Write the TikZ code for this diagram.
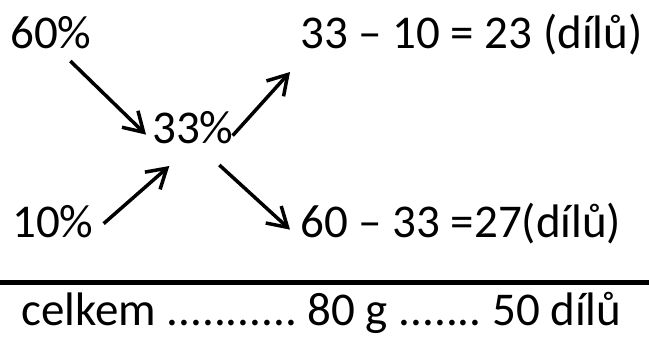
\documentclass[tikz,border=0pt]{standalone}
\usepackage{fontspec}
\setmainfont{Carlito}
\frenchspacing
\usetikzlibrary{arrows.meta,positioning,calc}
\tikzset{t/.style={inner sep=0pt,anchor=base west,font=\fontsize{47}{56}\selectfont},
 arr/.style={-{Straight Barb[length=19pt,width=23pt]},line width=3.5pt},
 rule/.style={line width=5pt}}
\begin{document}
\begin{tikzpicture}[x=1pt,y=-1pt]
\useasboundingbox (0,0) rectangle (649,338);
\node[t] (p60) at (10,48) {60\%};
\node[t] (p33) at (152,143) {33\%};
\node[t] (p10) at (12,237) {10\%};
\node[t] (d1) at (300,48) {33 – 10 = 23 (dílů)};
\node[t] (d2) at (300,237) {60 – 33 =27(dílů)};
\node[t] (sum) at (21,325) {celkem ........... 80 g ....... 50 dílů};
\draw[rule] (0,282) -- (649,282);
\draw[arr] ([xshift=19.5pt,yshift=-13pt]p60.base) -- ([xshift=-6pt,yshift=6pt]p33.mid west);
\draw[arr] ([xshift=-1pt,yshift=5pt]p33.mid east) -- ([xshift=-10pt,yshift=-24pt]d1.base west);
\draw[arr] ([xshift=10pt,yshift=11pt]p10.mid east) -- ([xshift=-23.5pt,yshift=-23pt]p33.base);
\draw[arr] ([xshift=26.5pt,yshift=-22pt]p33.base) -- ([xshift=-10pt,yshift=5pt]d2.mid west);
\end{tikzpicture}
\end{document}
